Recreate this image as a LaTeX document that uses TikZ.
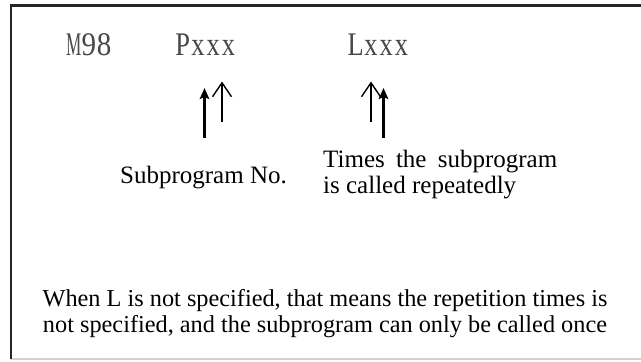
\documentclass[tikz,border=0pt]{standalone}
\usepackage{fontspec}
\setmainfont{Liberation Serif}
\usetikzlibrary{arrows.meta}
\tikzset{
  frameline/.style={line width=2.4pt, draw=black!85},
  baseline rule/.style={line width=1.5pt, draw=black!18},
  code/.style={anchor=base west, inner sep=0pt, text=black!72, font=\fontsize{33}{36}\selectfont},
  label/.style={anchor=base west, inner sep=0pt, font=\fontsize{25}{28}\selectfont},
  note/.style={anchor=base, inner sep=0pt, font=\fontsize{24.3}{27}\selectfont},
  boldarrow/.style={line width=3pt, -{Stealth[length=11pt,width=9.5pt,inset=2pt]}},
  slimarrow/.style={line width=1.4pt, -{Straight Barb[length=14pt,width=19pt,line width=1.4pt]}},
}
% one monospaced cell of the code line
\newcommand\cell[2][0.8]{\makebox[15.2pt]{\scalebox{#1}[1]{#2}}}
\begin{document}
\begin{tikzpicture}[x=1pt,y=-1pt]
  \useasboundingbox (0,0) rectangle (641,362);
  \fill[white] (0,0) rectangle (641,362);

  % open frame: left and top edges dark, bottom edge faint
  \coordinate (tl) at (11,5.5);
  \coordinate (tr) at (641,5.5);
  \coordinate (bl) at (11,359);
  \coordinate (br) at (641,359);
  \draw[baseline rule] (bl) -- (br);
  \draw[frameline] (tr) -- (tl) -- (bl);

  % code line
  \node[code] (m98) at (66,55) {\cell[0.52]{M}\cell[0.88]{9}\cell[0.88]{8}};
  \node[code] (pxxx) at (175,55) {\cell[0.8]{P}\cell{x}\cell{x}\cell{x}};
  \node[code] (lxxx) at (348,55) {\cell[0.8]{L}\cell{x}\cell{x}\cell{x}};

  % arrows under P
  \coordinate (p1s) at (204.5,138);
  \coordinate (p1e) at (204.5,88);
  \coordinate (p2s) at (222,122);
  \coordinate (p2e) at (222,81.5);
  \draw[boldarrow] (p1s) -- (p1e);
  \draw[slimarrow] (p2s) -- (p2e);

  % arrows under L
  \coordinate (l1s) at (371,122);
  \coordinate (l1e) at (371,81.5);
  \coordinate (l2s) at (383.5,138);
  \coordinate (l2e) at (383.5,88);
  \draw[slimarrow] (l1s) -- (l1e);
  \draw[boldarrow] (l2s) -- (l2e);

  % labels
  \node[label] (subno) at (120,183) {Subprogram No.};
  \node[label] (times1) at (323,167) {\makebox[234pt][s]{Times the subprogram}};
  \node[label] (times2) at (323,193) {is called repeatedly};

  % note
  \node[note] (note1) at (325,306) {When L is not specified, that means the repetition times is};
  \node[note] (note2) at (325,332) {not specified, and the subprogram can only be called once};
\end{tikzpicture}
\end{document}
